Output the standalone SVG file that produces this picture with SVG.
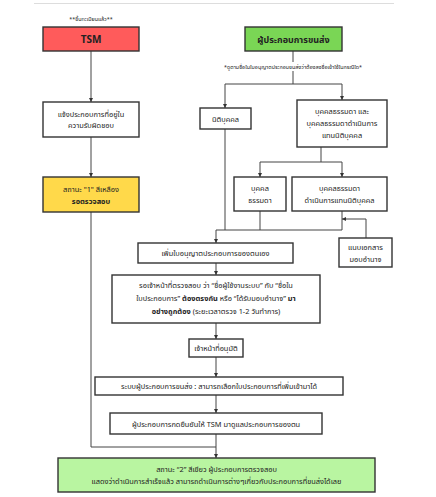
<svg xmlns="http://www.w3.org/2000/svg" width="436" height="497" viewBox="0 0 436 497">
<style>
  .box { stroke: #333; stroke-width: 1.4; fill: #fff; }
  .ln { stroke: #444; stroke-width: 1; fill: none; }
  text { font-family: "Noto Sans Thai", "Loma", "Garuda", "Liberation Sans", sans-serif; font-size: 7.4px; fill: #222; text-anchor: middle; }
  .b { font-weight: bold; }
  .small { font-size: 5.4px; }
  .hdr { font-size: 10px; font-weight: bold; }
</style>
<defs>
  <marker id="ah" viewBox="0 0 6 6" refX="6" refY="3" markerWidth="4" markerHeight="4" orient="auto">
    <path d="M0,0 L6,3 L0,6 z" fill="#333"/>
  </marker>
</defs>
<rect width="436" height="497" fill="#fff"/>
<line x1="34" y1="3.5" x2="394" y2="3.5" stroke="#ddd" stroke-width="1"/>

<g id="connectors">
  <line class="ln" x1="91" y1="51" x2="91" y2="102" marker-end="url(#ah)"/>
  <line class="ln" x1="91" y1="137" x2="91" y2="177" marker-end="url(#ah)"/>
  <polyline class="ln" points="91,212 91,447 216,447"/>
  <line class="ln" x1="293" y1="51" x2="293" y2="62"/>
  <polyline class="ln" points="293,71 293,84"/>
  <polyline class="ln" points="225,84 342,84"/>
  <line class="ln" x1="225" y1="84" x2="225" y2="108" marker-end="url(#ah)"/>
  <line class="ln" x1="342" y1="84" x2="342" y2="100" marker-end="url(#ah)"/>
  <line class="ln" x1="321" y1="147" x2="321" y2="162"/>
  <line class="ln" x1="260" y1="162" x2="342" y2="162"/>
  <line class="ln" x1="260" y1="162" x2="260" y2="177" marker-end="url(#ah)"/>
  <line class="ln" x1="342" y1="162" x2="342" y2="177" marker-end="url(#ah)"/>
  <line class="ln" x1="225" y1="129" x2="225" y2="230"/>
  <line class="ln" x1="260" y1="211" x2="260" y2="230"/>
  <line class="ln" x1="342" y1="211" x2="342" y2="230"/>
  <line class="ln" x1="216" y1="230" x2="342" y2="230"/>
  <polyline class="ln" points="366,238 366,219 342,219" marker-end="url(#ah)"/>
  <line class="ln" x1="216" y1="230" x2="216" y2="243" marker-end="url(#ah)"/>
  <line class="ln" x1="216" y1="263" x2="216" y2="275" marker-end="url(#ah)"/>
  <line class="ln" x1="216" y1="323" x2="216" y2="339" marker-end="url(#ah)"/>
  <line class="ln" x1="216" y1="357" x2="216" y2="377" marker-end="url(#ah)"/>
  <line class="ln" x1="216" y1="395" x2="216" y2="413" marker-end="url(#ah)"/>
  <line class="ln" x1="216" y1="434" x2="216" y2="458" marker-end="url(#ah)"/>
</g>

<g id="tsm">
  <text class="small" x="91" y="21">**ขึ้นทะเบียนแล้ว**</text>
  <rect class="box" x="43" y="27" width="96" height="24" style="fill:#FF5B5B"/>
  <text class="hdr" x="91" y="43">TSM</text>
</g>

<g id="carrier">
  <rect class="box" x="245" y="27" width="97" height="24" style="fill:#7AD655"/>
  <text class="hdr" x="293.5" y="43" style="font-size:9px">ผู้ประกอบการขนส่ง</text>
  <text class="small" x="293" y="69">*ดูตามชื่อในใบอนุญาตประกอบขนส่งว่าต้องลงชื่อเข้าใช้ในกรณีใด*</text>
</g>

<g id="notify">
  <rect class="box" x="43" y="102" width="96" height="35"/>
  <text x="91" y="117">แจ้งประกอบการที่อยู่ใน</text>
  <text x="91" y="128">ความรับผิดชอบ</text>
</g>

<g id="status1">
  <rect class="box" x="43" y="177" width="96" height="35" style="fill:#FFD94A"/>
  <text x="91" y="192">สถานะ "1" สีเหลือง</text>
  <text class="b" x="91" y="204">รอตรวจสอบ</text>
</g>

<g id="juristic">
  <rect class="box" x="200" y="108" width="51" height="21"/>
  <text x="225.5" y="121.5">นิติบุคคล</text>
</g>

<g id="natural-both">
  <rect class="box" x="297" y="100" width="90" height="47"/>
  <text x="342" y="114">บุคคลธรรมดา และ</text>
  <text x="342" y="126">บุคคลธรรมดาดำเนินการ</text>
  <text x="342" y="138">แทนนิติบุคคล</text>
</g>

<g id="natural">
  <rect class="box" x="234" y="177" width="52" height="34"/>
  <text x="260" y="191">บุคคล</text>
  <text x="260" y="203">ธรรมดา</text>
</g>

<g id="natural-proxy">
  <rect class="box" x="292" y="177" width="95" height="34"/>
  <text x="339.5" y="191">บุคคลธรรมดา</text>
  <text x="339.5" y="203">ดำเนินการแทนนิติบุคคล</text>
</g>

<g id="attach">
  <rect class="box" x="339" y="238" width="53" height="29"/>
  <text x="365.5" y="250">แนบเอกสาร</text>
  <text x="365.5" y="262">มอบอำนาจ</text>
</g>

<g id="add-license">
  <rect class="box" x="138" y="243" width="155" height="20"/>
  <text x="215.5" y="256">เพิ่มใบอนุญาตประกอบการของตนเอง</text>
</g>

<g id="wait-check">
  <rect class="box" x="112" y="275" width="208" height="48"/>
  <text x="216" y="288">รอเจ้าหน้าที่ตรวจสอบ ว่า “ชื่อผู้ใช้งานระบบ” กับ “ชื่อใน</text>
  <text x="216" y="301">ใบประกอบการ” <tspan class="b">ต้องตรงกัน</tspan> หรือ “ได้รับมอบอำนาจ” <tspan class="b">มา</tspan></text>
  <text x="216" y="314"><tspan class="b">อย่างถูกต้อง</tspan> (ระยะเวลาตรวจ 1-2 วันทำการ)</text>
</g>

<g id="approve">
  <rect class="box" x="189" y="339" width="54" height="18"/>
  <text x="216" y="351">เจ้าหน้าที่อนุมัติ</text>
</g>

<g id="select">
  <rect class="box" x="95" y="377" width="248" height="18"/>
  <text x="219" y="389">ระบบผู้ประกอบการขนส่ง : สามารถเลือกใบประกอบการที่เพิ่มเข้ามาได้</text>
</g>

<g id="confirm">
  <rect class="box" x="110" y="413" width="212" height="21"/>
  <text x="216" y="426.5">ผู้ประกอบการกดยืนยันให้ TSM มาดูแลประกอบการของตน</text>
</g>

<g id="status2">
  <rect class="box" x="58" y="458" width="317" height="34" style="fill:#B9F5A1"/>
  <text x="216.5" y="472">สถานะ “2” สีเขียว ผู้ประกอบการตรวจสอบ</text>
  <text x="216.5" y="484">แสดงว่าดำเนินการสำเร็จแล้ว สามารถดำเนินการต่างๆเกี่ยวกับประกอบการที่ขนส่งได้เลย</text>
</g>
</svg>
